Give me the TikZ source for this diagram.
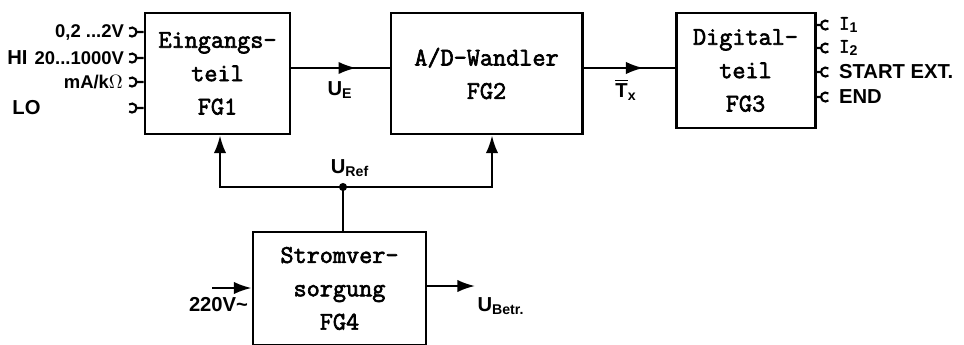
\documentclass[tikz,border=0pt]{standalone}
\usepackage{fontspec}
\setmainfont{Liberation Sans}
\setmonofont{Latin Modern Mono}[AutoFakeBold=2.5]
\usetikzlibrary{arrows.meta,decorations.markings}

\begin{document}
\begin{tikzpicture}[
    fgbox/.style={draw,line width=1.7pt,minimum height=2.42cm,align=center,inner sep=0pt,font=\ttfamily\bfseries\fontsize{14.5}{19}\selectfont},
    conn/.style={line width=1.2pt},
    arr/.style={conn,-{Latex[length=10pt,width=7pt]}},
    midarr/.style={conn,postaction={decorate},decoration={markings,mark=at position #1 with {\arrow{Latex[length=10pt,width=7pt]}}}},
    lbl/.style={font=\bfseries\fontsize{11.5}{12}\selectfont,inner sep=1pt},
    inlbl/.style={font=\bfseries\fontsize{10.5}{11}\selectfont,inner sep=1pt,anchor=east}
  ]
    \useasboundingbox (0,0) rectangle (19.28,-6.9);
    % function groups
    \node[fgbox,minimum width=2.9cm] (fg1) at (4.35,-1.47) {Eingangs-\\teil\\FG1};
    \node[fgbox,minimum width=3.82cm] (fg2) at (9.73,-1.47) {A/D-Wandler\\FG2};
    \node[fgbox,minimum width=2.78cm,minimum height=2.3cm] (fg3) at (14.91,-1.41) {Digital-\\teil\\FG3};
    \node[fgbox,minimum width=3.46cm,minimum height=2.26cm] (fg4) at (6.79,-5.77) {Stromver-\\sorgung\\FG4};
    % signal path
    \coordinate (sig) at (0,-1.36);
    \draw[midarr=.66] (fg1.east |- sig) -- (fg2.west |- sig);
    \draw[midarr=.66] (fg2.east |- sig) -- (fg3.west |- sig);
    \node[lbl] (ue) at (6.8,-1.8) {U\textsubscript{E}};
    \node[lbl] (tx) at (12.52,-1.8) {$\overline{\hbox{T}}$\textsubscript{x}};
    % reference voltage
    \coordinate (ref) at (6.86,-3.74);
    \draw[conn] (ref) -- (ref |- fg4.north);
    \draw[arr] (ref) -| ([xshift=.05cm]fg1.south);
    \draw[arr] (ref) -| ([xshift=.11cm]fg2.south);
    \fill (ref) circle (2.3pt);
    \node[lbl] (uref) at (7.0,-3.36) {U\textsubscript{Ref}};
    % supply
    \coordinate (mains) at (4.24,-5.76);
    \draw[arr] (mains) -- (mains -| fg4.west);
    \node[lbl] (v220) at (4.37,-6.1) {220V\textasciitilde};
    \coordinate (betr) at (9.5,-5.72);
    \draw[arr] (fg4.east |- betr) -- (betr);
    \node[lbl] (ubetr) at (10.02,-6.12) {U\textsubscript{Betr.}};
    % input terminals
    \node[inlbl] (in1) at (2.52,-0.64) {0,2 ...2V};
    \node[inlbl] (in2) at (2.52,-1.16) {20...1000V};
    \node[inlbl] (in3) at (2.5,-1.64) {mA/k$\Omega$};
    \node[lbl] (hi) at (0.35,-1.16) {HI};
    \node[lbl] (lo) at (0.53,-2.16) {LO};
    \coordinate (in4) at (2.5,-2.16);
    \draw[conn] (fg1.west |- in1) -- ++(-.14,0) ++(-.09,0) +(130:.09) arc[start angle=130,end angle=-130,radius=.09];
    \draw[conn] (fg1.west |- in2) -- ++(-.14,0) ++(-.09,0) +(130:.09) arc[start angle=130,end angle=-130,radius=.09];
    \draw[conn] (fg1.west |- in3) -- ++(-.14,0) ++(-.09,0) +(130:.09) arc[start angle=130,end angle=-130,radius=.09];
    \draw[conn] (fg1.west |- in4) -- ++(-.14,0) ++(-.09,0) +(130:.09) arc[start angle=130,end angle=-130,radius=.09];
    % output terminals
    \node[lbl,anchor=west] (i1) at (16.74,-0.5) {{\ttfamily I}\textsubscript{1}};
    \node[lbl,anchor=west] (i2) at (16.74,-0.96) {{\ttfamily I}\textsubscript{2}};
    \node[lbl,anchor=west] (start) at (16.74,-1.44) {START EXT.};
    \node[lbl,anchor=west] (stop) at (16.74,-1.94) {END};
    \draw[conn] (fg3.east |- i1) -- ++(.09,0) ++(.09,0) +(50:.09) arc[start angle=50,end angle=310,radius=.09];
    \draw[conn] (fg3.east |- i2) -- ++(.09,0) ++(.09,0) +(50:.09) arc[start angle=50,end angle=310,radius=.09];
    \draw[conn] (fg3.east |- start) -- ++(.09,0) ++(.09,0) +(50:.09) arc[start angle=50,end angle=310,radius=.09];
    \draw[conn] (fg3.east |- stop) -- ++(.09,0) ++(.09,0) +(50:.09) arc[start angle=50,end angle=310,radius=.09];
  \end{tikzpicture}
\end{document}
